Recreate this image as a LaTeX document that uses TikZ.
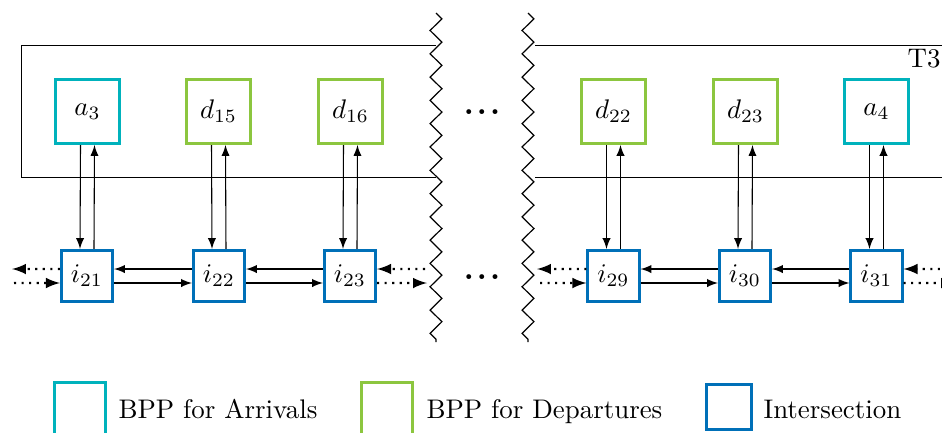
\documentclass[tikz,border=0pt]{standalone}
\usetikzlibrary{decorations.pathmorphing,arrows}
\definecolor{arrcol}{RGB}{0,178,188}
\definecolor{depcol}{RGB}{140,198,63}
\definecolor{intcol}{RGB}{0,112,184}
\begin{document}
\begin{tikzpicture}[x=0.3717pt,y=-0.3717pt,
  topbox/.style={draw,line width=1.1pt,minimum size=23.8pt,inner sep=0pt},
  arrbox/.style={topbox,draw=arrcol},
  depbox/.style={topbox,draw=depcol},
  intbox/.style={draw=intcol,line width=1.1pt,minimum size=19pt,inner sep=0pt},
  arr/.style={-latex,line width=0.4pt},
  dotarr/.style={-latex,dotted,line width=0.8pt},
  zz/.style={decorate,decoration={zigzag,segment length=8.66pt,amplitude=2.2pt},line width=0.45pt},
  legtext/.style={anchor=base west,inner sep=0pt},
  dotsnode/.style={anchor=base,inner sep=0pt,font=\fontsize{12.5}{14}\selectfont\bfseries}]
\clip (0,0) rectangle (942,432);
% frame of T3
\draw[line width=0.35pt] (436,45) -- (21,45) -- (21,177) -- (436,177);
\draw[line width=0.35pt] (535,45) -- (960,45);
\draw[line width=0.35pt] (535,177) -- (960,177);
\node[anchor=base east,inner sep=0pt] (t3) at (941,67) {T3};
% zigzag cuts
\coordinate (z1a) at (436,13);
\coordinate (z1b) at (436,342);
\coordinate (z2a) at (528,13);
\coordinate (z2b) at (528,342);
\draw[zz] (z1a) -- (z1b);
\draw[zz] (z2a) -- (z2b);
% dots
\node[dotsnode] (dt) at (482,114) {.\kern1pt.\kern1pt.};
\node[dotsnode] (db) at (482,279) {.\kern1pt.\kern1pt.};
% top boxes
\node[arrbox] (a3)  at (87.5,111.5)  {$a_3$};
\node[depbox] (d15) at (218.5,111.5) {$d_{15}$};
\node[depbox] (d16) at (350.5,111.5) {$d_{16}$};
\node[depbox] (d22) at (613.5,111.5) {$d_{22}$};
\node[depbox] (d23) at (745.5,111.5) {$d_{23}$};
\node[arrbox] (a4)  at (876.5,111.5) {$a_4$};
% intersections
\node[intbox] (i21) at (87,276)    {$i_{21}$};
\node[intbox] (i22) at (219,276)   {$i_{22}$};
\node[intbox] (i23) at (350,276)   {$i_{23}$};
\node[intbox] (i29) at (613.5,276) {$i_{29}$};
\node[intbox] (i30) at (745,276)   {$i_{30}$};
\node[intbox] (i31) at (876.5,276) {$i_{31}$};
% vertical arrows
\foreach \t/\i in {a3/i21,d15/i22,d16/i23,d22/i29,d23/i30,a4/i31}{
  \draw[arr] ([xshift=-2.6pt]\t.south) -- ([xshift=-2.6pt]\i.north);
  \draw[arr] ([xshift=2.6pt]\i.north) -- ([xshift=2.6pt]\t.south);
}
% horizontal arrows
\foreach \a/\b in {i21/i22,i22/i23,i29/i30,i30/i31}{
  \draw[arr] ([yshift=2.6pt]\b.west) -- ([yshift=2.6pt]\a.east);
  \draw[arr] ([yshift=-2.6pt]\a.east) -- ([yshift=-2.6pt]\b.west);
}
% dotted stubs
\coordinate (l1) at (12,269);
\coordinate (l2) at (14,283);
\coordinate (r1) at (425,269);
\coordinate (r2) at (427,283);
\coordinate (m1) at (537,269);
\coordinate (m2) at (540,283);
\coordinate (e1) at (955,269);
\coordinate (e2) at (955,283);
\draw[dotarr] ([yshift=2.6pt]i21.west) -- (l1);
\draw[dotarr] (l2) -- ([yshift=-2.6pt]i21.west);
\draw[dotarr] (r1) -- ([yshift=2.6pt]i23.east);
\draw[dotarr] ([yshift=-2.6pt]i23.east) -- (r2);
\draw[dotarr] ([yshift=2.6pt]i29.west) -- (m1);
\draw[dotarr] (m2) -- ([yshift=-2.6pt]i29.west);
\draw[dotarr] (e1) -- ([yshift=2.6pt]i31.east);
\draw[dotarr] ([yshift=-2.6pt]i31.east) -- (e2);
% legend
\node[draw=arrcol,line width=1.1pt,minimum size=19pt,inner sep=0pt] (la) at (80,408.5) {};
\node[legtext] (lat) at (118,418) {BPP for Arrivals};
\node[draw=depcol,line width=1.1pt,minimum size=19pt,inner sep=0pt] (ld) at (387,408.5) {};
\node[legtext] (ldt) at (426,418) {BPP for Departures};
\node[draw=intcol,line width=1.1pt,minimum size=16.7pt,inner sep=0pt] (li) at (729,407) {};
\node[legtext] (lit) at (763,418) {Intersection};
\end{tikzpicture}
\end{document}
